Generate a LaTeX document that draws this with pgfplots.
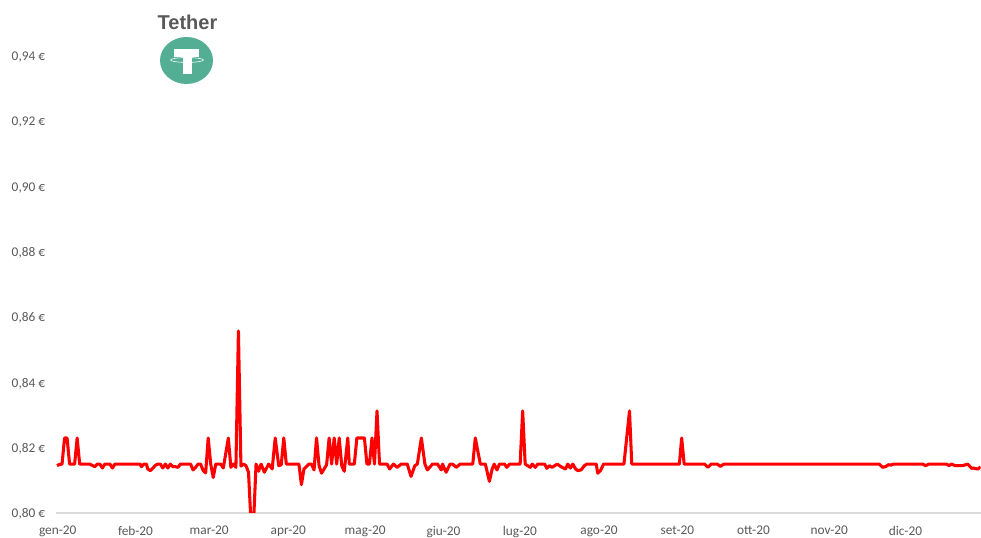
\documentclass[border=0pt]{standalone}
\usepackage{pgfplots}
\pgfplotsset{compat=1.18}
\usepackage{fontspec}
\setmainfont{Carlito}
\newfontfamily\titlefont{Liberation Sans}
\definecolor{lab}{HTML}{595959}
\definecolor{axl}{HTML}{D9D9D9}
\definecolor{teth}{HTML}{53AE94}
\begin{document}
\begin{tikzpicture}[x=0.75pt,y=0.75pt]
\path[use as bounding box] (0,0) rectangle (981,538);
\begin{axis}[
  at={(42.75pt,18.75pt)},anchor=origin,
  scale only axis,width=693pt,height=379.125pt,
  xmin=-0.2,xmax=366.5,ymin=0.80,ymax=0.95501,
  axis lines=left,axis line style={-},
  x axis line style={draw=axl,line width=0.9pt},
  y axis line style={draw=none},
  major tick length=0pt,
  xtick={0.3,31.15,60.4,91.8,122.3,153.4,183.7,215.1,246.2,276.4,306.5,336.7},
  xticklabels={gen-20,feb-20,mar-20,apr-20,mag-20,giu-20,lug-20,ago-20,set-20,ott-20,nov-20,dic-20},
  ytick={0.80,0.82,0.84,0.86,0.88,0.90,0.92,0.94},
  yticklabels={{0,80 €},{0,82 €},{0,84 €},{0,86 €},{0,88 €},{0,90 €},{0,92 €},{0,94 €}},
  tick label style={font=\fontsize{10}{11}\selectfont,text=lab},
  xticklabel style={yshift=-6.3pt},
  yticklabel style={xshift=-5pt,yshift=-0.6pt},
  clip=true,
]
\addplot[color=red,line width=2.3pt,line join=round,no marks] coordinates {
(0,.8145)(1,.8149)(2,.815)(3,.823)(4,.823)(5,.815)(7,.815)(8,.823)(9,.815)(13,.815)(14,.8146)(15,.8142)(16,.815)(17,.815)(18,.8138)(19,.815)(21,.815)(22,.8138)(23,.815)(33,.815)(33.5,.8142)(34.5,.815)(35.5,.815)(36,.8135)(37,.813)(38,.8137)(39,.8146)(40,.815)(41,.815)(42,.8138)(43,.815)(44,.8138)(45,.815)(46,.8142)(47,.8142)(48,.814)(49,.815)(53,.815)(54,.8132)(55,.814)(56,.815)(57,.815)(58,.813)(59,.8123)(60,.823)(61,.815)(62,.8109)(63,.815)(65,.815)(66,.8138)(68,.823)(69,.814)(70,.815)(71,.814)(72,.8558)(73,.8144)(74,.815)(75,.8145)(76,.8125)(77,.797)(78,.797)(79,.815)(80,.8128)(81,.815)(82.3,.8125)(84,.815)(85.4,.8135)(86.6,.823)(88,.8145)(89,.8148)(90,.823)(91,.815)(96,.815)(97,.8087)(98,.8135)(100,.815)(101,.815)(102,.8132)(103,.823)(104,.8145)(105,.8122)(107,.8148)(108,.823)(109,.815)(110,.823)(111,.815)(112,.823)(113,.8145)(114,.8128)(115.4,.823)(116,.815)(118,.815)(119,.823)(122,.823)(123,.815)(124,.815)(125,.823)(126,.815)(127,.8313)(128,.815)(131,.815)(132,.8135)(133.5,.815)(135,.814)(136.6,.815)(139,.815)(140.5,.8112)(142,.8145)(143,.815)(144.6,.823)(146,.815)(147,.8132)(149,.815)(151,.815)(152.5,.8132)(153,.815)(154.4,.8125)(156,.815)(157,.815)(158.4,.814)(160,.815)(165,.815)(166,.823)(168,.815)(170,.815)(171.6,.8097)(172.7,.8135)(173.5,.815)(174.6,.8132)(175.6,.815)(177.6,.815)(178.5,.814)(179.6,.815)(183.8,.815)(184.8,.8313)(185.8,.815)(186.8,.8145)(187.8,.814)(188.6,.815)(189.8,.814)(190.8,.815)(193.5,.815)(194.4,.8137)(195.4,.8145)(196.5,.814)(197.5,.8145)(198.5,.815)(200,.8142)(201.8,.8135)(202.7,.815)(203.7,.8138)(204.7,.815)(205.8,.8135)(206.7,.813)(208,.8132)(209.3,.8145)(210.3,.815)(214,.815)(214.6,.8122)(215.7,.813)(216.9,.815)(225,.815)(227.2,.8313)(228.1,.815)(247,.815)(247.9,.823)(248.9,.815)(257,.815)(258.3,.814)(259.6,.815)(262,.815)(263.3,.8143)(264.6,.815)(326.3,.815)(327.7,.814)(329,.8143)(330,.8148)(331,.8147)(332,.815)(343.6,.815)(344.7,.8145)(346,.815)(353,.815)(354,.8145)(355,.815)(356.5,.8145)(359.4,.8145)(361.4,.815)(363,.8137)(363.7,.8138)(364.4,.8136)(365.6,.8135)(366.5,.8142)
};
\end{axis}
% title and logo
\node[font=\titlefont\bfseries\fontsize{15}{16}\selectfont,text=lab] at (187.5,516) {Tether};
\fill[teth] (186.5,477.5) ellipse [x radius=26.5,y radius=23.5];
\fill[white] (174,488.7) rectangle (199,481.3);
\fill[white] (183,482) rectangle (192,464);
\draw[white,line width=0.45pt] (187,478) ellipse [x radius=16.5,y radius=2.4];
\end{tikzpicture}
\end{document}
